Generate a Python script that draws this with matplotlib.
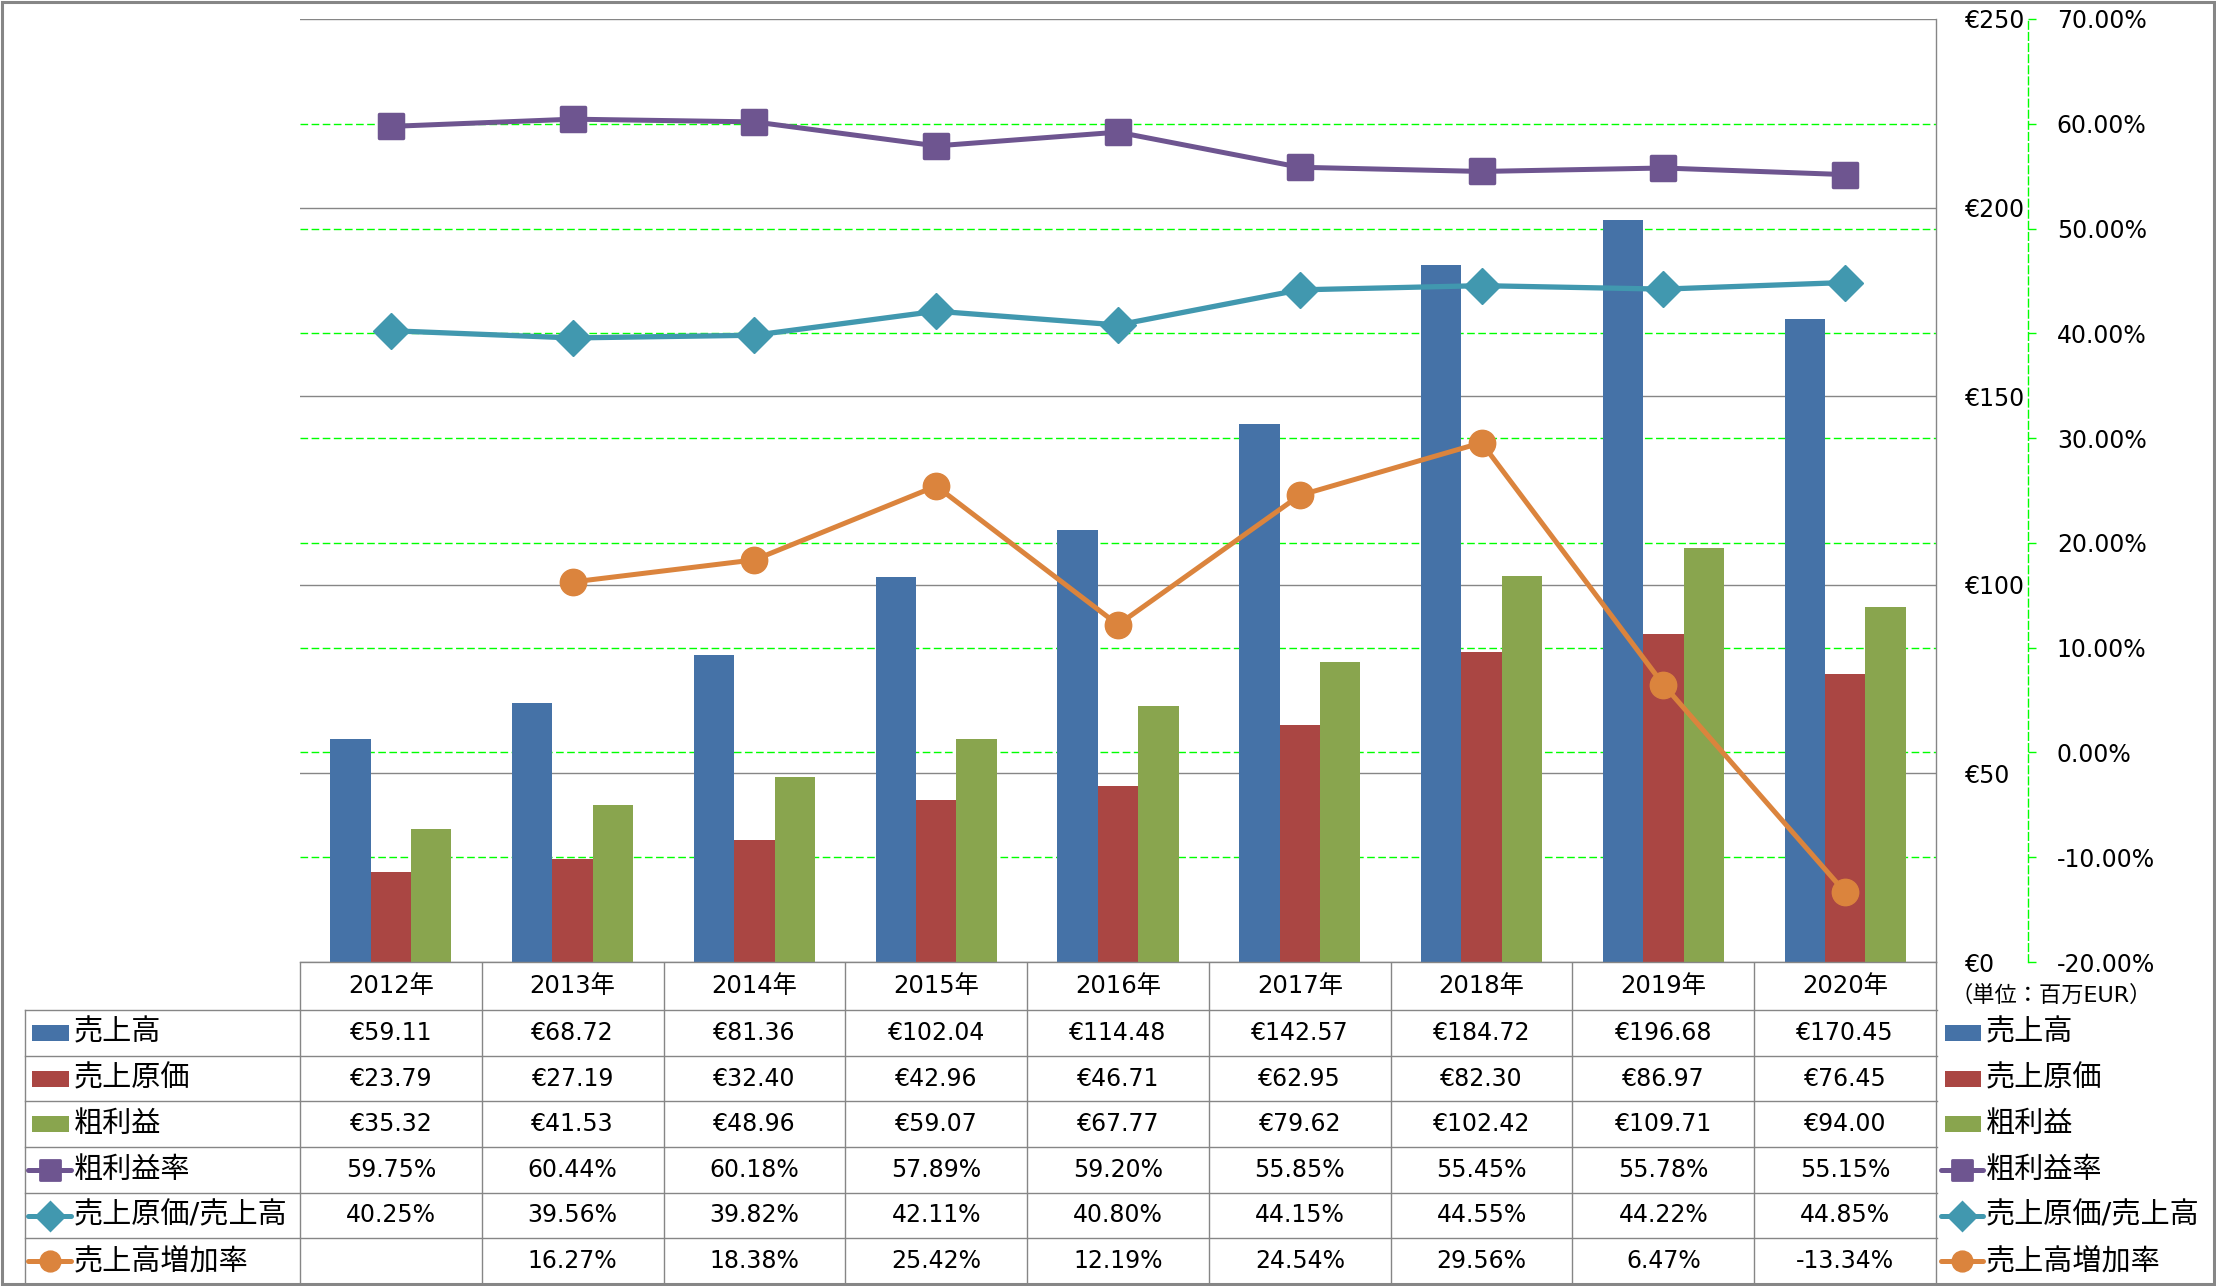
import numpy as np
import matplotlib
matplotlib.use('Agg')
import matplotlib.pyplot as plt
from matplotlib.patches import Rectangle
from matplotlib.markers import MarkerStyle
from matplotlib.transforms import blended_transform_factory

plt.rcParams['font.family'] = ['DejaVu Sans', 'Noto Sans CJK JP']

# データ (百万EUR / %)
years = ['2012年', '2013年', '2014年', '2015年', '2016年', '2017年', '2018年', '2019年', '2020年']
uriage = [59.11, 68.72, 81.36, 102.04, 114.48, 142.57, 184.72, 196.68, 170.45]
genka = [23.79, 27.19, 32.40, 42.96, 46.71, 62.95, 82.30, 86.97, 76.45]
arari = [35.32, 41.53, 48.96, 59.07, 67.77, 79.62, 102.42, 109.71, 94.00]
arari_ritsu = [59.75, 60.44, 60.18, 57.89, 59.20, 55.85, 55.45, 55.78, 55.15]
genka_ritsu = [40.25, 39.56, 39.82, 42.11, 40.80, 44.15, 44.55, 44.22, 44.85]
zouka_ritsu = [np.nan, 16.27, 18.38, 25.42, 12.19, 24.54, 29.56, 6.47, -13.34]

names = ['売上高', '売上原価', '粗利益', '粗利益率', '売上原価/売上高', '売上高増加率']
c_blue, c_red, c_green = '#4572A7', '#AA4643', '#89A54E'
c_purple, c_teal, c_orange = '#6E5590', '#4198AF', '#DB843D'
gray = '#868686'
lime = '#00FF00'

W, H = 2216, 1286
fig = plt.figure(figsize=(W / 100, H / 100), dpi=100)


def rect(l, t, r, b):
    return [l / W, 1 - b / H, (r - l) / W, (b - t) / H]


# 表と凡例用のオーバーレイ (ピクセル座標)
ov = fig.add_axes([0, 0, 1, 1])
ov.set_xlim(0, W)
ov.set_ylim(H, 0)
ov.axis('off')

ax = fig.add_axes(rect(300, 19, 1936, 962))
ax2 = ax.twinx()
ax.yaxis.tick_right()

x = np.arange(len(years))
bw = 1 / 4.5
ax.bar(x - bw, uriage, bw, color=c_blue, zorder=2)
ax.bar(x, genka, bw, color=c_red, zorder=2)
ax.bar(x + bw, arari, bw, color=c_green, zorder=2)

ax.set_xlim(-0.5, len(years) - 0.5)
ax.set_ylim(0, 250)
ax.set_xticks([])
ax.set_yticks(np.arange(0, 251, 50))
ax.set_yticklabels(['€%d' % v for v in range(0, 251, 50)])
ax.tick_params(axis='y', length=0, pad=21, labelsize=17)
ax.grid(axis='y', color=gray, lw=1, zorder=0.6)
for s in ['top', 'left']:
    ax.spines[s].set_visible(False)
for s in ['right', 'bottom']:
    ax.spines[s].set_color(gray)
    ax.spines[s].set_linewidth(1)

# 第2軸 (%)
sq = MarkerStyle('s', joinstyle='round')
ax2.plot(x, arari_ritsu, color=c_purple, lw=3.6, marker=sq, ms=17, mew=2.5,
         mec=c_purple, mfc=c_purple, zorder=3)
ax2.plot(x, genka_ritsu, color=c_teal, lw=3.8, marker='D', ms=18, mew=1,
         mec=c_teal, mfc=c_teal, zorder=3)
ax2.plot(x, zouka_ritsu, color=c_orange, lw=3.6, marker='o', ms=19,
         mec=c_orange, mfc=c_orange, zorder=3)
ax2.set_ylim(-20, 70)
pticks = np.arange(-20, 71, 10)
ax2.set_yticks(pticks)
labs = ax2.set_yticklabels(['%.2f%%' % v for v in pticks])
for v, t in zip(pticks, labs):
    if v < 0:
        t.set_color('red')
ax2.tick_params(axis='y', length=6, width=1, color=lime, pad=15, labelsize=17)
for s in ['top', 'left', 'bottom']:
    ax2.spines[s].set_visible(False)
ax2.spines['right'].set_position(('outward', 66))
ax2.spines['right'].set_color(lime)
ax2.spines['right'].set_linestyle((0, (5.5, 2.5)))
ax2.spines['right'].set_linewidth(1)

# 第2軸の目盛線 (棒の後ろ)
tg = blended_transform_factory(ax.transAxes, ax2.transData)
for v in pticks[1:-1]:
    ax.plot([0, 1], [v, v], transform=tg, color=lime, lw=1,
            ls=(0, (5.5, 2.5)), zorder=0.5)
ax.set_xlim(-0.5, len(years) - 0.5)
ax.set_ylim(0, 250)

# データテーブル
tb = blended_transform_factory(ax.transData, ov.transData)
top, hdr = 962, 1010
edges = np.linspace(hdr, 1284, 7)
for k in range(len(years) + 1):
    ov.plot([k - 0.5, k - 0.5], [top, 1284], transform=tb, color=gray, lw=1)
for y in edges[:-1]:
    ov.plot([25, 1937], [y, y], color=gray, lw=1)
ov.plot([25, 25], [hdr, 1284], color=gray, lw=1)

for i, yr in enumerate(years):
    ov.text(i, (top + hdr) / 2, yr, transform=tb, ha='center', va='center', fontsize=17.5)

rows = [
    ['€%.2f' % v for v in uriage],
    ['€%.2f' % v for v in genka],
    ['€%.2f' % v for v in arari],
    ['%.2f%%' % v for v in arari_ritsu],
    ['%.2f%%' % v for v in genka_ritsu],
    ['' if np.isnan(v) else '%.2f%%' % v for v in zouka_ritsu],
]
centers = (edges[:-1] + edges[1:]) / 2
for r, vals in enumerate(rows):
    for i, s in enumerate(vals):
        ov.text(i, centers[r], s, transform=tb, ha='center', va='center', fontsize=17)

keys = [('bar', c_blue), ('bar', c_red), ('bar', c_green),
        (sq, c_purple), ('D', c_teal), ('o', c_orange)]


def draw_key(x0, x1, y, key):
    kind, col = key
    if kind == 'bar':
        ov.add_patch(Rectangle((x0 + 4, y - 8), x1 - x0 - 6, 16, color=col, lw=0))
    else:
        ov.plot([x0, x1], [y, y], color=col, lw=3.6, solid_capstyle='round')
        ov.plot([(x0 + x1) / 2], [y], marker=kind, ms=14, color=col, mec=col, mew=2)


for r, name in enumerate(names):
    draw_key(28, 71, centers[r], keys[r])
    ov.text(74, centers[r], name, ha='left', va='center', fontsize=21)
    draw_key(1941, 1983, centers[r], keys[r])
    ov.text(1986, centers[r], name, ha='left', va='center', fontsize=21)

ov.text(1950, 995, '（単位：百万EUR）', ha='left', va='center', fontsize=16)

# 外枠
ov.add_patch(Rectangle((1.5, 1.5), W - 4, H - 3.5, fill=False, ec=gray, lw=2.2, clip_on=False))

fig.savefig('out.png', dpi=100)
